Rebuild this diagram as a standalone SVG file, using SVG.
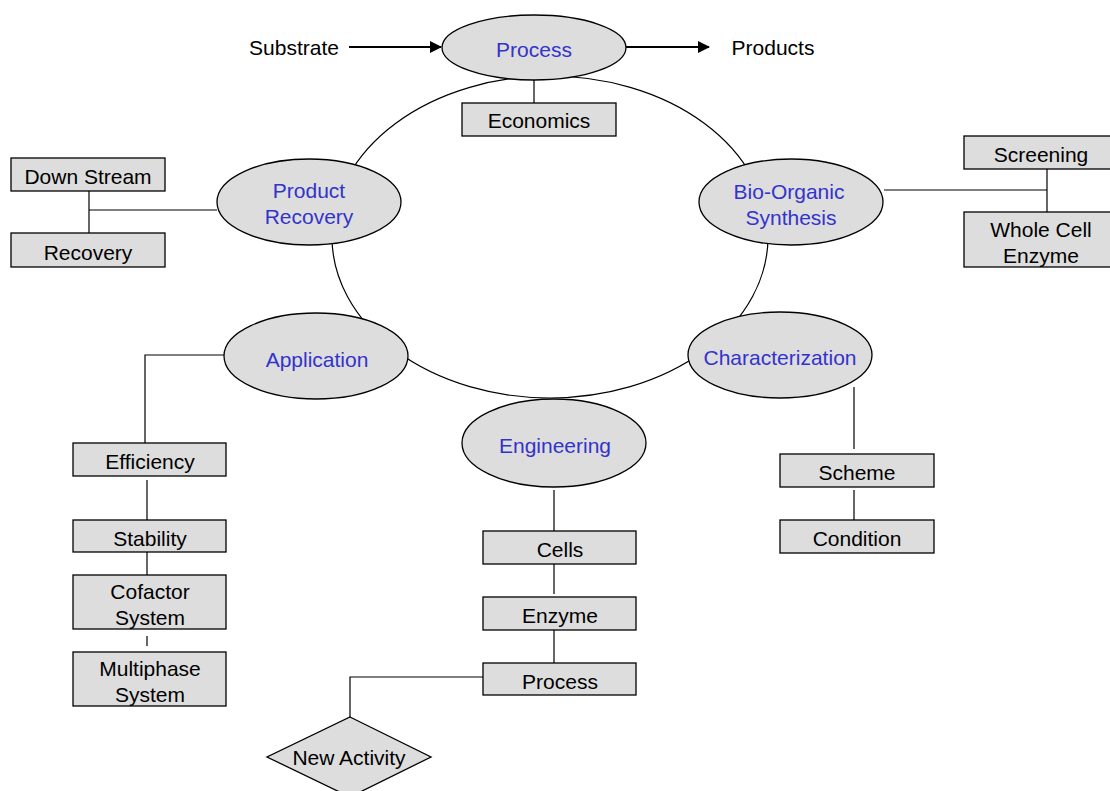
<svg xmlns="http://www.w3.org/2000/svg" width="1110" height="791" viewBox="0 0 1110 791">
<defs>
<style>
.n{fill:#dddddd;stroke:#000;stroke-width:1.3}
.e{fill:#dddddd;stroke:#000;stroke-width:1.3}
.c{fill:none;stroke:#000;stroke-width:1.2}
.a{fill:none;stroke:#000;stroke-width:2.2}
text{font-family:"Liberation Sans",Arial,sans-serif;font-size:21px;text-anchor:middle}
.b{fill:#3333cc}
.k{fill:#000}
</style>
<marker id="ar" markerWidth="12" markerHeight="12" refX="11" refY="6" orient="auto" markerUnits="userSpaceOnUse">
<path d="M0,0 L12,6 L0,12 Z" fill="#000"/>
</marker>
</defs>
<rect width="1110" height="791" fill="#fff"/>
<g id="connectors">
<ellipse cx="550" cy="237" rx="218" ry="161" class="c"/>
<line x1="349" y1="47" x2="441" y2="47" class="a" marker-end="url(#ar)"/>
<line x1="626" y1="47" x2="709" y2="47" class="a" marker-end="url(#ar)"/>
<line x1="534" y1="80" x2="534" y2="103" class="c"/>
<polyline points="217,210 89,210" class="c"/>
<line x1="89" y1="191" x2="89" y2="233" class="c"/>
<polyline points="884,190 1047,190" class="c"/>
<line x1="1047" y1="169" x2="1047" y2="212" class="c"/>
<polyline points="224,355 145,355 145,443" class="c"/>
<line x1="147" y1="480" x2="147" y2="520" class="c"/>
<line x1="147" y1="552" x2="147" y2="575" class="c"/>
<line x1="147" y1="636" x2="147" y2="646" class="c"/>
<line x1="854" y1="387" x2="854" y2="449" class="c"/>
<line x1="854" y1="490" x2="854" y2="521" class="c"/>
<line x1="554" y1="490" x2="554" y2="532" class="c"/>
<line x1="554" y1="564" x2="554" y2="594" class="c"/>
<line x1="554" y1="625" x2="554" y2="667" class="c"/>
<polyline points="486,677 350,677 350,717" class="c"/>
</g>
<g id="substrate"><text x="294" y="55" class="k">Substrate</text></g>
<g id="products"><text x="773" y="55" class="k">Products</text></g>
<g id="process"><ellipse cx="534" cy="47.5" rx="92" ry="32.5" class="e"/><text x="534" y="57" class="b">Process</text></g>
<g id="economics"><rect x="462" y="103" width="154" height="33" class="n"/><text x="539" y="128" class="k">Economics</text></g>
<g id="product-recovery"><ellipse cx="309" cy="202" rx="92" ry="43" class="e"/><text x="309" y="198" class="b">Product</text><text x="309" y="224" class="b">Recovery</text></g>
<g id="down-stream"><rect x="11" y="158" width="154" height="33" class="n"/><text x="88" y="184" class="k">Down Stream</text></g>
<g id="recovery"><rect x="11" y="233" width="154" height="34" class="n"/><text x="88" y="260" class="k">Recovery</text></g>
<g id="bio-organic"><ellipse cx="791" cy="202" rx="92" ry="43" class="e"/><text x="789" y="199" class="b">Bio-Organic</text><text x="791" y="225" class="b">Synthesis</text></g>
<g id="screening"><rect x="964" y="136" width="152" height="33" class="n"/><text x="1041" y="162" class="k">Screening</text></g>
<g id="whole-cell"><rect x="964" y="212" width="152" height="55" class="n"/><text x="1041" y="237" class="k">Whole Cell</text><text x="1041" y="263" class="k">Enzyme</text></g>
<g id="application"><ellipse cx="316" cy="356" rx="92" ry="43" class="e"/><text x="317" y="367" class="b">Application</text></g>
<g id="efficiency"><rect x="73" y="443" width="153" height="33" class="n"/><text x="150" y="469" class="k">Efficiency</text></g>
<g id="stability"><rect x="73" y="520" width="153" height="32" class="n"/><text x="150" y="546" class="k">Stability</text></g>
<g id="cofactor"><rect x="73" y="575" width="153" height="54" class="n"/><text x="150" y="599" class="k">Cofactor</text><text x="150" y="625" class="k">System</text></g>
<g id="multiphase"><rect x="73" y="652" width="153" height="54" class="n"/><text x="150" y="676" class="k">Multiphase</text><text x="150" y="702" class="k">System</text></g>
<g id="characterization"><ellipse cx="780" cy="355" rx="92" ry="43" class="e"/><text x="780" y="365" class="b" textLength="153" lengthAdjust="spacingAndGlyphs">Characterization</text></g>
<g id="scheme"><rect x="780" y="454" width="154" height="33" class="n"/><text x="857" y="480" class="k">Scheme</text></g>
<g id="condition"><rect x="780" y="520" width="154" height="33" class="n"/><text x="857" y="546" class="k">Condition</text></g>
<g id="engineering"><ellipse cx="554" cy="443" rx="92" ry="44" class="e"/><text x="555" y="453" class="b">Engineering</text></g>
<g id="cells"><rect x="483" y="531" width="153" height="33" class="n"/><text x="560" y="557" class="k">Cells</text></g>
<g id="enzyme"><rect x="483" y="597" width="153" height="33" class="n"/><text x="560" y="623" class="k">Enzyme</text></g>
<g id="process2"><rect x="483" y="663" width="153" height="32" class="n"/><text x="560" y="689" class="k">Process</text></g>
<g id="new-activity"><polygon points="350,717 431,757 350,797 267,757" class="n"/><text x="349" y="765" class="k">New Activity</text></g>
</svg>
